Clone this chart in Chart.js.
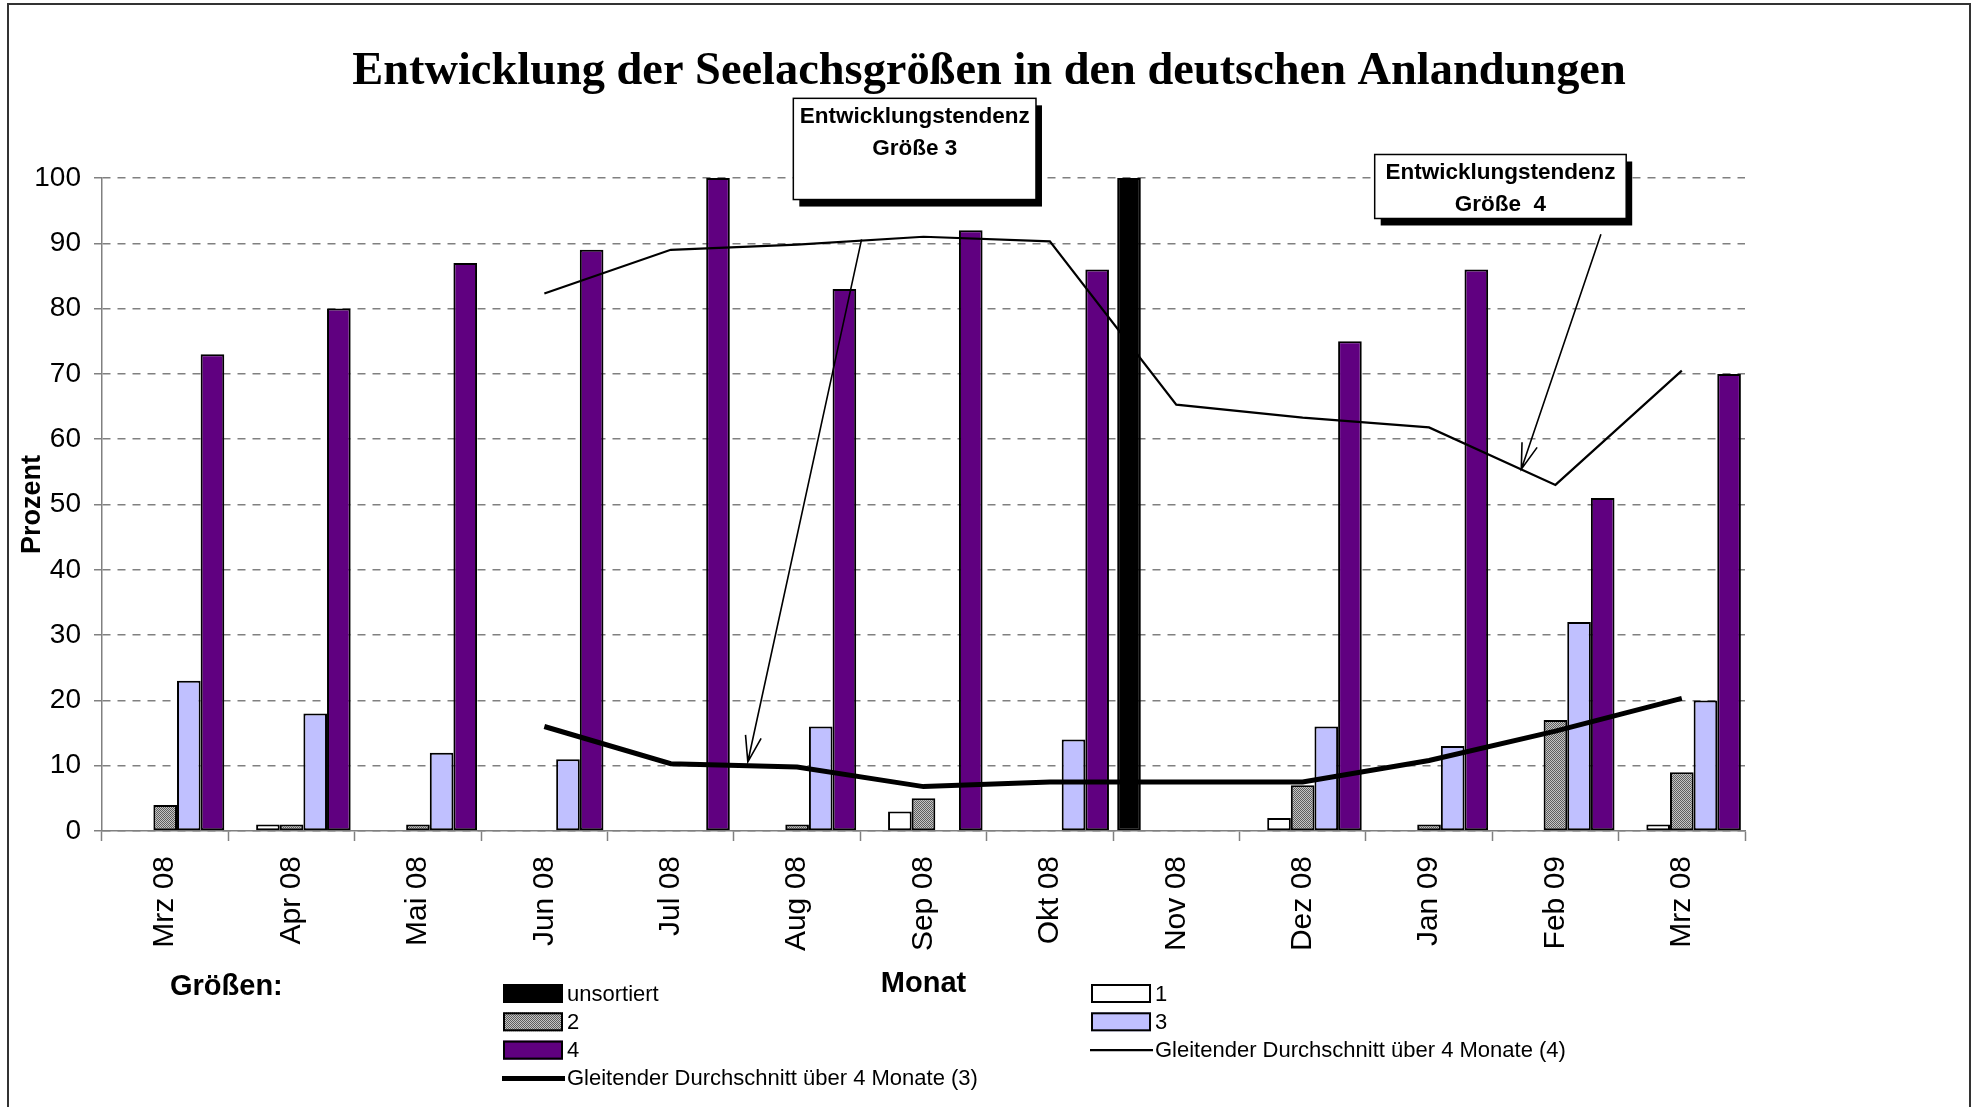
<!DOCTYPE html>
<html lang="de">
<head>
<meta charset="utf-8">
<title>Entwicklung der Seelachsgrößen</title>
<script src="https://cdn.jsdelivr.net/npm/chart.js@4.4.1/dist/chart.umd.min.js"></script>
<style>
    html, body { margin: 0; padding: 0; background: #fff; }
    #wrap { width: 1973px; height: 1107px; }
</style>
</head>
<body>
<div id="wrap"><canvas id="chart" width="1973" height="1107"></canvas></div>
<script>
// --- Data ---
const months = ['Mrz 08', 'Apr 08', 'Mai 08', 'Jun 08', 'Jul 08', 'Aug 08', 'Sep 08',
                'Okt 08', 'Nov 08', 'Dez 08', 'Jan 09', 'Feb 09', 'Mrz 08'];

const unsortiert = [null, null, null, null, null, null, null, null, 100, null, null, null, null];
const size1 = [null, 1, null, null, null, null, 3, null, null, 2, null, null, 1];
const size2 = [4, 1, 1, null, null, 1, 5, null, null, 7, 1, 17, 9];
const size3 = [23, 18, 12, 11, null, 16, null, 14, null, 16, 13, 32, 20];
const size4 = [73, 80, 87, 89, 100, 83, 92, 86, null, 75, 86, 51, 70];

// moving averages as drawn (start at the 4th month)
const avg4 = [null, null, null, 82.3, 89, 89.8, 91, 90.3, 65.3, 63.3, 61.8, 53, 70.5];
const avg3 = [null, null, null, 16, 10.3, 9.8, 6.8, 7.5, 7.5, 7.5, 10.8, 15.3, 20.3];

const seriesLabels = ['unsortiert', '1', '2', '3', '4',
    'Gleitender Durchschnitt über 4 Monate (4)',
    'Gleitender Durchschnitt über 4 Monate (3)'];

const titleText = 'Entwicklung der Seelachsgrößen in den deutschen Anlandungen';
const noteTexts = [['Entwicklungstendenz', 'Größe 3'], ['Entwicklungstendenz', 'Größe  4']];

// --- Styling / placement (kept apart from the data) ---
const SANS = '"Liberation Sans", Arial, sans-serif';
const SERIF = '"Liberation Serif", "Times New Roman", serif';
const PURPLE = '#600080';
const LAVENDER = '#c0c0ff';
const GRID = '#808080';

// callout boxes and arrows, in (category index, value) units
const notePlaces = [
    { x0: 4.97, x1: 6.89, y0: 112.2, y1: 96.7, from: [5.51, 90.6], to: [4.61, 10.6] },
    { x0: 9.57, x1: 11.56, y0: 103.6, y1: 93.8, from: [11.36, 91.4], to: [10.73, 55.4] }
];

function makeHatch() {
    const c = document.createElement('canvas');
    c.width = 4; c.height = 4;
    const g = c.getContext('2d');
    g.fillStyle = '#c4c4c4';
    g.fillRect(0, 0, 4, 4);
    g.fillStyle = '#5e5e5e';
    for (let y = 0; y < 4; y++) {
        for (let x = 0; x < 4; x++) {
            if ((x + y) % 2 === 0) g.fillRect(x, y, 1, 1);
        }
    }
    return g.createPattern(c, 'repeat');
}
const hatch = makeHatch();

function barSet(label, data, color) {
    return {
        type: 'bar', label: label, data: data,
        backgroundColor: color, borderColor: '#000', borderWidth: 2,
        borderSkipped: false, order: 2,
        categoryPercentage: 0.935, barPercentage: 1.0
    };
}

// --- Frame, title, callouts and legend ---
const decorPlugin = {
    id: 'decor',
    beforeDraw(chart) {
        const ctx = chart.ctx;
        ctx.save();
        ctx.fillStyle = '#fff';
        ctx.fillRect(0, 0, chart.width, chart.height);
        ctx.restore();
    },
    afterDraw(chart) {
        const ctx = chart.ctx;
        const xs = chart.scales.x, ys = chart.scales.y;
        ctx.save();

        // outer frame
        ctx.strokeStyle = '#333';
        ctx.lineWidth = 2;
        ctx.beginPath();
        ctx.moveTo(8, chart.height);
        ctx.lineTo(8, 4);
        ctx.lineTo(1970, 4);
        ctx.lineTo(1970, chart.height);
        ctx.stroke();

        // title
        ctx.fillStyle = '#000';
        ctx.font = 'bold 46.4px ' + SERIF;
        ctx.textAlign = 'center';
        ctx.textBaseline = 'alphabetic';
        ctx.fillText(titleText, 989, 84);

        // callouts
        notePlaces.forEach((p, i) => {
            const bx = xs.getPixelForValue(p.x0), bx2 = xs.getPixelForValue(p.x1);
            const by = ys.getPixelForValue(p.y0), by2 = ys.getPixelForValue(p.y1);
            const w = bx2 - bx, h = by2 - by;

            ctx.fillStyle = '#000';
            ctx.fillRect(bx + 6, by + 7, w, h);
            ctx.fillStyle = '#fff';
            ctx.fillRect(bx, by, w, h);
            ctx.strokeStyle = '#000';
            ctx.lineWidth = 1.5;
            ctx.strokeRect(bx, by, w, h);

            ctx.fillStyle = '#000';
            ctx.font = 'bold 22.5px ' + SANS;
            ctx.textAlign = 'center';
            ctx.fillText(noteTexts[i][0], bx + w / 2, by + 25);
            ctx.fillText(noteTexts[i][1], bx + w / 2, by + 57);

            // arrow
            const ax = xs.getPixelForValue(p.from[0]), ay = ys.getPixelForValue(p.from[1]);
            const ex = xs.getPixelForValue(p.to[0]), ey = ys.getPixelForValue(p.to[1]);
            const ang = Math.atan2(ey - ay, ex - ax);
            ctx.lineWidth = 1.6;
            ctx.beginPath();
            ctx.moveTo(ax, ay);
            ctx.lineTo(ex, ey);
            ctx.moveTo(ex - 27 * Math.cos(ang - 0.3), ey - 27 * Math.sin(ang - 0.3));
            ctx.lineTo(ex, ey);
            ctx.lineTo(ex - 27 * Math.cos(ang + 0.3), ey - 27 * Math.sin(ang + 0.3));
            ctx.stroke();
        });

        // legend
        ctx.font = 'bold 29px ' + SANS;
        ctx.textAlign = 'left';
        ctx.textBaseline = 'middle';
        ctx.fillText('Größen:', 170, 987);

        const colX = [503, 1091];
        ctx.font = '22px ' + SANS;
        chart.data.datasets.forEach((ds, i) => {
            const x = colX[i % 2];
            const y = 993.5 + Math.floor(i / 2) * 28.3;
            if (ds.type === 'bar') {
                ctx.fillStyle = ds.backgroundColor;
                ctx.fillRect(x, y - 9.5, 60, 19);
                ctx.strokeStyle = '#000';
                ctx.lineWidth = 2;
                ctx.strokeRect(x + 1, y - 8.5, 58, 17);
            } else {
                ctx.strokeStyle = ds.borderColor;
                ctx.lineWidth = ds.borderWidth;
                ctx.beginPath();
                ctx.moveTo(x - 1, y);
                ctx.lineTo(x + 62, y);
                ctx.stroke();
            }
            ctx.fillStyle = '#000';
            ctx.fillText(ds.label, x + 64, y + 1);
        });

        ctx.restore();
    }
};

// --- Chart ---
const chart = new Chart(document.getElementById('chart').getContext('2d'), {
    data: {
        labels: months,
        datasets: [
            barSet(seriesLabels[0], unsortiert, '#000'),
            barSet(seriesLabels[1], size1, '#fff'),
            barSet(seriesLabels[2], size2, hatch),
            barSet(seriesLabels[3], size3, LAVENDER),
            barSet(seriesLabels[4], size4, PURPLE),
            {
                type: 'line', label: seriesLabels[5], data: avg4,
                borderColor: '#000', borderWidth: 2.2, pointRadius: 0,
                tension: 0, spanGaps: false, order: 1
            },
            {
                type: 'line', label: seriesLabels[6], data: avg3,
                borderColor: '#000', borderWidth: 5, pointRadius: 0,
                tension: 0, spanGaps: false, order: 1
            }
        ]
    },
    options: {
        responsive: false,
        animation: false,
        devicePixelRatio: 1,
        layout: { padding: { top: 178, left: 0, right: 228, bottom: 106 } },
        plugins: {
            legend: { display: false },
            title: { display: false },
            tooltip: { enabled: false }
        },
        scales: {
            x: {
                type: 'category',
                afterFit: (scale) => { scale.height = 170; },
                grid: {
                    offset: true, drawOnChartArea: false, drawTicks: true,
                    tickLength: 10, tickColor: GRID, tickWidth: 1.5
                },
                border: { color: GRID, width: 1.5 },
                ticks: {
                    color: '#000', font: { family: SANS, size: 30 },
                    minRotation: 90, maxRotation: 90, autoSkip: false, padding: 15
                },
                title: {
                    display: true, text: 'Monat', color: '#000',
                    font: { family: SANS, size: 29, weight: 'bold', lineHeight: 1.2 },
                    padding: { top: 0, bottom: 0 }
                }
            },
            y: {
                min: 0, max: 100,
                afterFit: (scale) => { scale.width = 102; },
                grid: {
                    color: GRID, lineWidth: 1.5, drawTicks: true, tickLength: 8,
                    tickColor: GRID, tickWidth: 1.5, tickBorderDash: []
                },
                border: { color: GRID, width: 1.5, dash: [8, 7] },
                ticks: {
                    stepSize: 10, color: '#000', padding: 13,
                    font: { family: SANS, size: 28 }
                },
                title: {
                    display: true, text: 'Prozent', color: '#000',
                    font: { family: SANS, size: 27, weight: 'bold', lineHeight: 1.2 },
                    padding: { top: 16, bottom: 0 }
                }
            }
        }
    },
    plugins: [decorPlugin]
});
</script>
</body>
</html>
